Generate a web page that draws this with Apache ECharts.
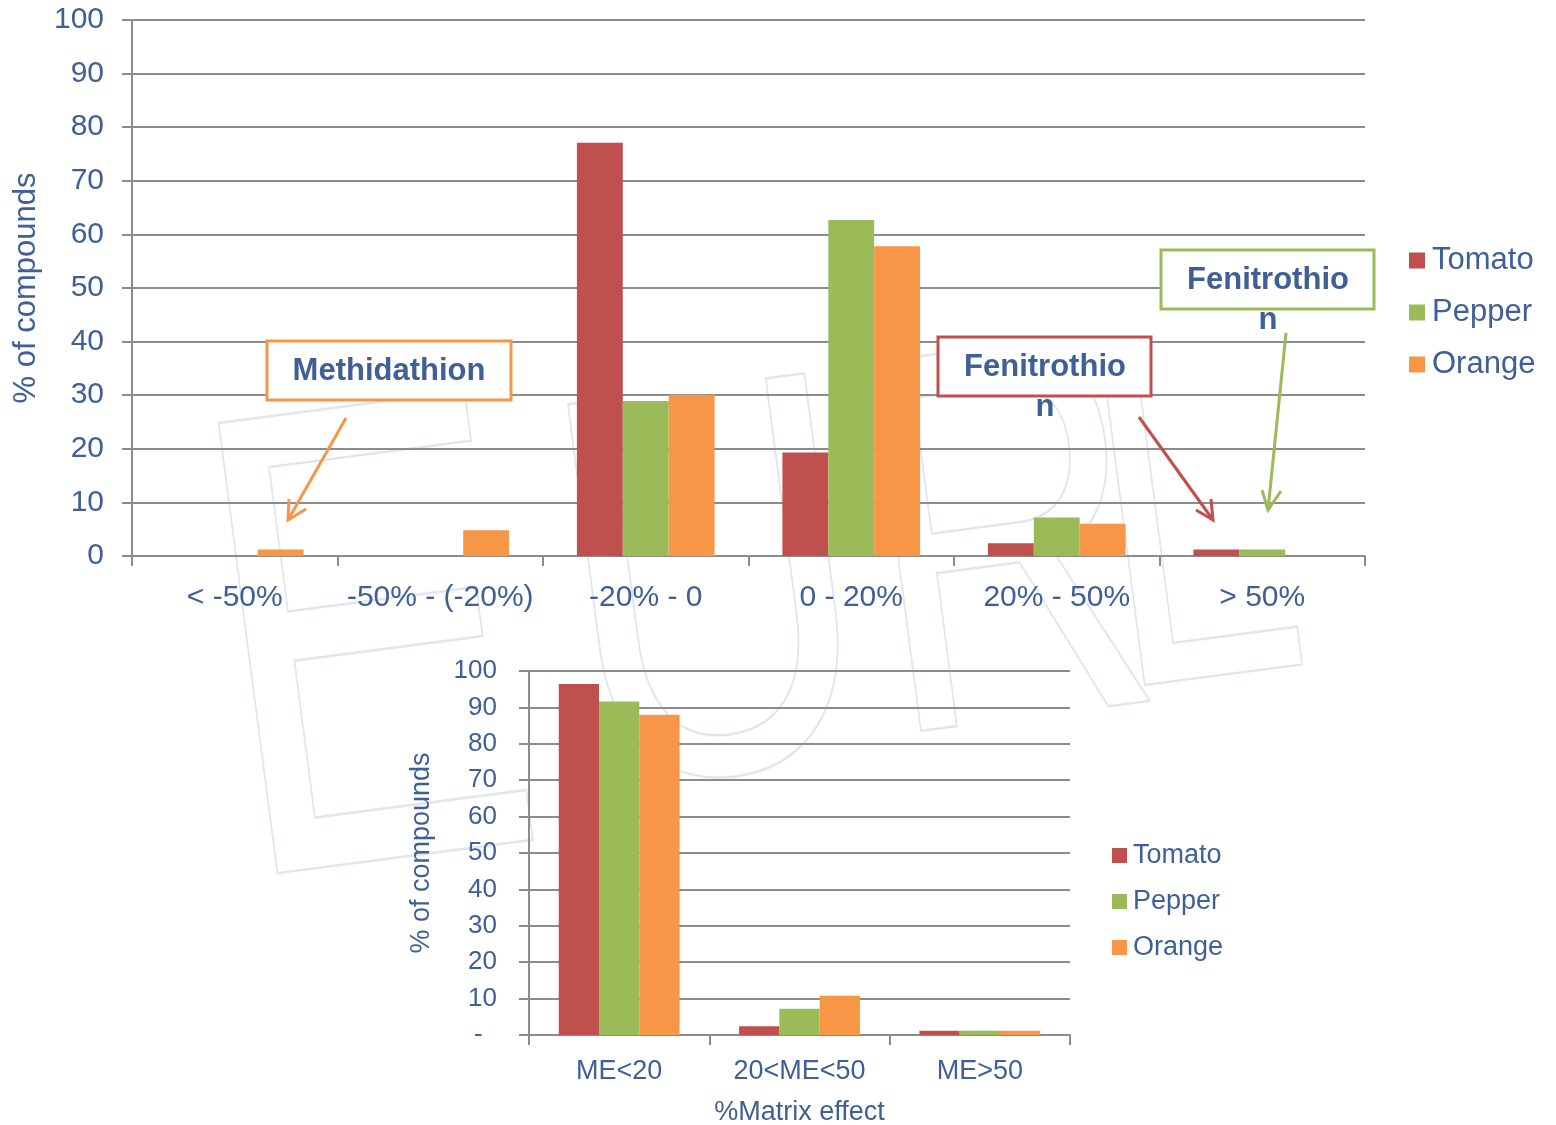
<!DOCTYPE html>
<html>
<head>
<meta charset="utf-8">
<script src="https://cdn.jsdelivr.net/npm/echarts@6/dist/echarts.min.js"></script>
<style>
  html, body { margin: 0; padding: 0; background: #ffffff; }
  #chart { width: 1556px; height: 1125px; }
</style>
</head>
<body>
<div id="chart"></div>
<script>
// Matrix-effect ranges (upper chart)
const rangeCategories = ['< -50%', '-50% - (-20%)', '-20% - 0', '0 - 20%', '20% - 50%', '> 50%'];
const rangeTomato = [0, 0, 77.1, 19.3, 2.4, 1.2];
const rangePepper = [0, 0, 28.9, 62.7, 7.2, 1.2];
const rangeOrange = [1.2, 4.8, 30.1, 57.8, 6.0, 0];

// Absolute matrix-effect classes (lower chart)
const effectCategories = ['ME<20', '20<ME<50', 'ME>50'];
const effectTomato = [96.4, 2.4, 1.2];
const effectPepper = [91.6, 7.2, 1.2];
const effectOrange = [88.0, 10.8, 1.2];

const seriesNames = ['Tomato', 'Pepper', 'Orange'];
const seriesColors = ['#C0504D', '#9BBB59', '#F79646'];

const FONT = '"Liberation Sans", Arial, sans-serif';
const TEXT = '#3F6096';
const LINE = '#8C8C8C';

const chart = echarts.init(document.getElementById('chart'), null, { renderer: 'canvas' });

function valueAxis(gridIndex, fontSize, margin, nameGap, zeroDash) {
  return {
    type: 'value', gridIndex, min: 0, max: 100, interval: 10,
    name: '% of compounds', nameLocation: 'middle', nameRotate: 90, nameGap,
    nameTextStyle: { color: TEXT, fontSize: fontSize + 1, fontFamily: FONT },
    axisLine: { show: true, lineStyle: { color: LINE, width: 2 } },
    axisTick: { show: true, length: 10, inside: false, lineStyle: { color: LINE, width: 2 } },
    axisLabel: {
      color: TEXT, fontSize, fontFamily: FONT, margin,
      formatter: v => (zeroDash && v === 0) ? '-  ' : String(v)
    },
    splitLine: { show: true, lineStyle: { color: LINE, width: 2 } }
  };
}

function categoryAxis(gridIndex, data, fontSize, margin) {
  return {
    type: 'category', gridIndex, data,
    axisLine: { show: true, lineStyle: { color: LINE, width: 2 } },
    axisTick: { show: true, length: 10, alignWithLabel: false, lineStyle: { color: LINE, width: 2 } },
    axisLabel: { color: TEXT, fontSize, fontFamily: FONT, margin, interval: 0 }
  };
}

const rangeValues = [rangeTomato, rangePepper, rangeOrange];
const effectValues = [effectTomato, effectPepper, effectOrange];

const series = [];
seriesNames.forEach((name, i) => {
  series.push({
    name, type: 'bar', xAxisIndex: 0, yAxisIndex: 0, data: rangeValues[i],
    barGap: '0%', barCategoryGap: '33%',
    itemStyle: { color: seriesColors[i] }
  });
});
seriesNames.forEach((name, i) => {
  series.push({
    name, type: 'bar', xAxisIndex: 1, yAxisIndex: 1, data: effectValues[i],
    barGap: '0%', barCategoryGap: '33%',
    itemStyle: { color: seriesColors[i] }
  });
});

// Callout boxes and arrows naming the outlying compounds
const boldText = (x, y, text, size) => ({
  type: 'text', x, y, z: 20,
  style: { text, fill: TEXT, font: `bold ${size}px ${FONT}`, textAlign: 'center', textVerticalAlign: 'middle' }
});
const box = (x, y, w, h, color) => ({
  type: 'rect', z: 19, shape: { x, y, width: w, height: h },
  style: { fill: '#ffffff', stroke: color, lineWidth: 3 }
});
const arrow = (from, to, wingA, wingB, color) => ([
  { type: 'polyline', z: 18, shape: { points: [from, to] }, style: { stroke: color, lineWidth: 3, fill: null } },
  { type: 'polyline', z: 18, shape: { points: [wingA, to, wingB] }, style: { stroke: color, lineWidth: 3, fill: null, lineJoin: 'miter' } }
]);

// Faint outlined logo lettering behind the plots, one glyph at a time
const logoLetter = (ch, x, y, size, sx) => ({
  type: 'text', x, y, rotation: 0.13, scaleX: sx, z: -10, silent: true,
  style: {
    text: ch, font: `${size}px ${FONT}`, fill: 'rgba(0,0,0,0)',
    stroke: 'rgba(196,206,222,0.5)', lineWidth: 2.5, textVerticalAlign: 'bottom'
  }
});
const watermark = [
  logoLetter('E', 258, 1025, 660, 0.72),
  logoLetter('U', 602, 915, 560, 0.75),
  logoLetter('R', 905, 855, 540, 0.72),
  logoLetter('L', 1130, 800, 500, 0.72)
];

const graphic = [].concat(
  watermark,
  arrow([346, 418], [288, 520], [289, 499], [306, 509], '#F79646'),
  [box(267, 341, 244, 59, '#F79646'), boldText(389, 371, 'Methidathion', 31)],
  arrow([1139, 417], [1213, 520], [1211, 499], [1196, 510], '#C0504D'),
  [box(938, 337, 213, 59, '#C0504D'), boldText(1045, 367, 'Fenitrothio', 31), boldText(1045, 407, 'n', 31)],
  arrow([1286, 333], [1268, 510], [1262, 490], [1281, 491], '#9BBB59'),
  [box(1161, 250, 213, 59, '#9BBB59'), boldText(1268, 280, 'Fenitrothio', 31), boldText(1268, 320, 'n', 31)]
);

chart.setOption({
  animation: false,
  backgroundColor: '#ffffff',
  color: seriesColors,
  grid: [
    { left: 132, top: 20, width: 1233, height: 536, outerBoundsMode: 'none' },
    { left: 529, top: 671, width: 541, height: 364, outerBoundsMode: 'none' }
  ],
  xAxis: [
    categoryAxis(0, rangeCategories, 30, 27),
    Object.assign(categoryAxis(1, effectCategories, 27, 23), {
      name: '%Matrix effect', nameLocation: 'middle', nameGap: 64,
      nameTextStyle: { color: TEXT, fontSize: 27, fontFamily: FONT }
    })
  ],
  yAxis: [
    valueAxis(0, 30, 28, 90, false),
    valueAxis(1, 26, 32, 94, true)
  ],
  legend: [
    {
      orient: 'vertical', left: 1404, top: 240, itemWidth: 16, itemHeight: 16, itemGap: 21,
      icon: 'rect', data: seriesNames,
      textStyle: { color: TEXT, fontSize: 31, fontFamily: FONT, padding: [0, 0, 0, 2] }
    },
    {
      orient: 'vertical', left: 1107, top: 837, itemWidth: 15, itemHeight: 15, itemGap: 19,
      icon: 'rect', data: seriesNames,
      textStyle: { color: TEXT, fontSize: 27, fontFamily: FONT, padding: [0, 0, 0, 1] }
    }
  ],
  graphic,
  series
});
</script>
</body>
</html>
